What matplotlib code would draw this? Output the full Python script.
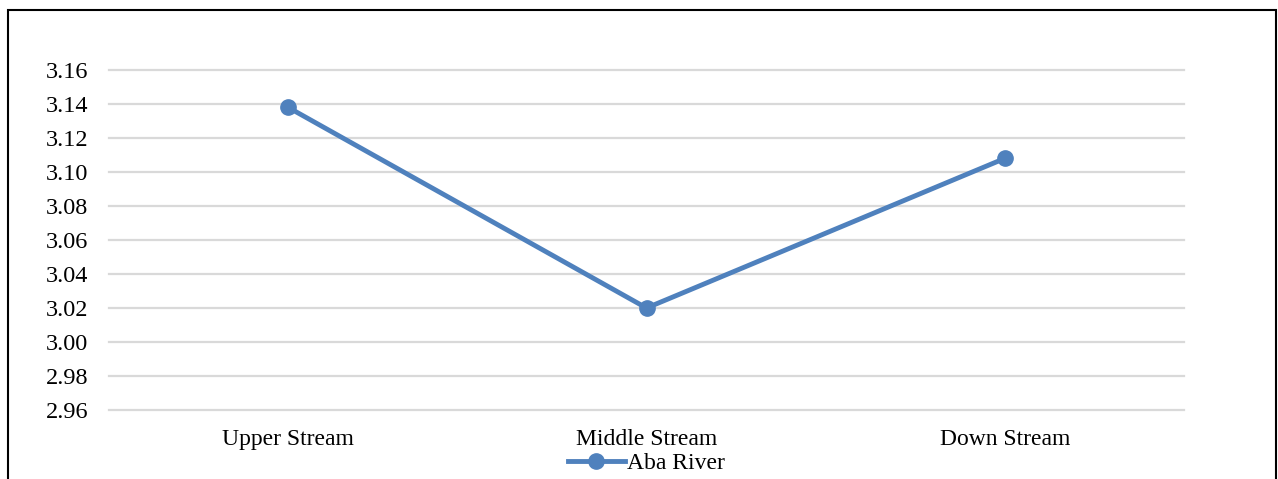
import matplotlib.pyplot as plt
from matplotlib.patches import Rectangle

plt.rcParams['font.family'] = ['Liberation Serif', 'DejaVu Serif']

stations = ['Upper Stream', 'Middle Stream', 'Down Stream']
aba_river = [3.138, 3.020, 3.108]
yticks = [2.96, 2.98, 3.00, 3.02, 3.04, 3.06, 3.08, 3.10, 3.12, 3.14, 3.16]

fig = plt.figure(figsize=(12.78, 4.79), dpi=100)
ax = fig.add_axes([109/1278, 1 - 410/479, (1184 - 109)/1278, (410 - 70)/479])

x = range(len(stations))
ax.plot(x, aba_river, color='#4F81BD', lw=3.5, marker='o', markersize=11,
        label='Aba River', zorder=3, clip_on=False)

ax.set_xlim(-0.5, len(stations) - 0.5)
ax.set_ylim(2.96, 3.16)
ax.set_yticks(yticks)
ax.set_yticklabels([f'{v:.2f}' for v in yticks])
ax.set_xticks(list(x))
ax.set_xticklabels(stations)
ax.tick_params(length=0, colors='black')
ax.tick_params(axis='y', pad=15, labelsize=17.5)
ax.tick_params(axis='x', pad=14, labelsize=17)
ax.yaxis.grid(True, color='#D9D9D9', lw=1.6)
for gl in ax.get_ygridlines():
    gl.set_clip_on(False)
ax.set_axisbelow(True)
for s in ax.spines.values():
    s.set_visible(False)

ax.legend(loc='center', bbox_to_anchor=(0.5, -0.158), frameon=False, fontsize=17,
          handlelength=2.4, handletextpad=0.1, borderaxespad=0, borderpad=0)

# outer border of the chart box
fig.patches.append(Rectangle((8/1278, -0.1), (1276 - 8)/1278, 1.1 - 10/479,
                             transform=fig.transFigure, fill=False, ec='black', lw=1.5))

plt.savefig('out.png', dpi=100)
